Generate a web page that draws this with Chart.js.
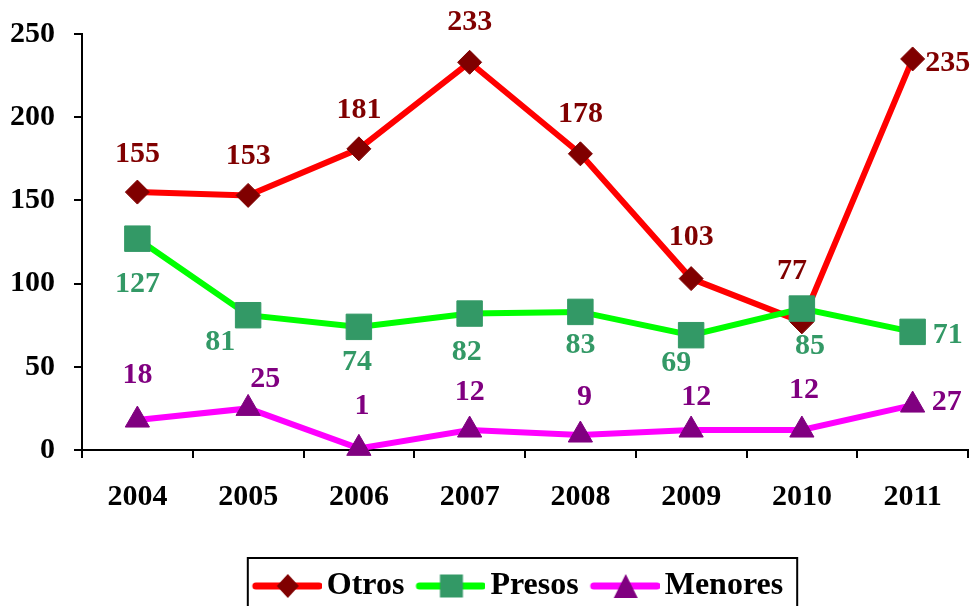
<!DOCTYPE html>
<html>
<head>
<meta charset="utf-8">
<script src="https://cdn.jsdelivr.net/npm/chart.js@4/dist/chart.umd.min.js"></script>
<style>
  html, body { margin: 0; padding: 0; background: #fff; overflow: hidden; }
  #wrap { position: relative; width: 975px; height: 606px; }
  #grafico { display: block; }
</style>
</head>
<body>
<div id="wrap"><canvas id="grafico"></canvas></div>
<script>
// datos
const years = ["2004", "2005", "2006", "2007", "2008", "2009", "2010", "2011"];
const otros = [155, 153, 181, 233, 178, 103, 77, 235];
const presos = [127, 81, 74, 82, 83, 69, 85, 71];
const menores = [18, 25, 1, 12, 9, 12, 12, 27];
const yTicks = [0, 50, 100, 150, 200, 250];

const FONT = '"Liberation Serif", "Times New Roman", serif';

// icono de leyenda: linea + marcador
function legendIcon(lineColor, fill, shape) {
  const c = document.createElement("canvas");
  c.width = 82; c.height = 30;
  const g = c.getContext("2d");
  g.strokeStyle = lineColor;
  g.lineWidth = 7;
  g.lineCap = "round";
  g.beginPath(); g.moveTo(16, 15); g.lineTo(79, 15); g.stroke();
  g.fillStyle = fill;
  const cx = 48, cy = 15;
  g.beginPath();
  if (shape === "rectRot") {
    g.moveTo(cx, cy - 12); g.lineTo(cx + 11, cy); g.lineTo(cx, cy + 12); g.lineTo(cx - 11, cy);
  } else if (shape === "rect") {
    g.rect(cx - 11.5, cy - 11.5, 23, 23);
  } else {
    g.moveTo(cx, cy - 12); g.lineTo(cx + 12, cy + 12); g.lineTo(cx - 12, cy + 12);
  }
  g.closePath(); g.fill();
  return c;
}

// etiquetas de valores + marco de la leyenda
const etiquetas = {
  id: "etiquetas",
  afterLayout(chart) {
    // correr la leyenda un poco a la izquierda
    if (chart.legend) { chart.legend.left -= 8; chart.legend.right -= 8; }
  },
  afterDatasetsDraw(chart) {
    const ctx = chart.ctx;
    ctx.save();
    ctx.font = "bold 30px " + FONT;
    ctx.textAlign = "center";
    ctx.textBaseline = "middle";
    chart.data.datasets.forEach((ds, i) => {
      const meta = chart.getDatasetMeta(i);
      ctx.fillStyle = ds.labelColor;
      meta.data.forEach((pt, j) => {
        const off = ds.labelOffsets[j];
        ctx.fillText(String(ds.data[j]), pt.x + off[0], pt.y + off[1]);
      });
    });
    ctx.restore();
  },
  afterDraw(chart) {
    const lg = chart.legend;
    if (!lg || !lg.legendHitBoxes.length) return;
    const hb = lg.legendHitBoxes;
    const left = hb[0].left - 3;
    const right = hb[hb.length - 1].left + hb[hb.length - 1].width + 14;
    const top = lg.top - 2;
    const ctx = chart.ctx;
    ctx.save();
    ctx.strokeStyle = "#000";
    ctx.lineWidth = 2;
    ctx.strokeRect(left, top, right - left, 80);
    ctx.restore();
  }
};

new Chart(document.getElementById("grafico"), {
  type: "line",
  data: {
    labels: years,
    datasets: [
      {
        label: "Otros",
        data: otros,
        borderColor: "#FF0000",
        backgroundColor: "#800000",
        borderWidth: 6,
        pointStyle: "rectRot",
        pointRadius: 12,
        pointBorderWidth: 1,
        pointBorderColor: "#800000",
        pointBackgroundColor: "#800000",
        labelColor: "#800000",
        labelOffsets: [[0, -38], [0, -39], [0, -39], [0, -40], [0, -40], [0, -41], [-10, -51], [35, 4]],
        icon: legendIcon("#FF0000", "#800000", "rectRot"),
        order: 3,
        clip: false
      },
      {
        label: "Presos",
        data: presos,
        borderColor: "#00FF00",
        backgroundColor: "#339966",
        borderWidth: 6,
        pointStyle: "rect",
        pointRadius: 18,
        pointBorderWidth: 1,
        pointBorderColor: "#339966",
        pointBackgroundColor: "#339966",
        labelColor: "#339966",
        labelOffsets: [[0, 46], [-28, 27], [-2, 35], [-3, 39], [0, 33], [-15, 28], [8, 38], [35, 3]],
        icon: legendIcon("#00FF00", "#339966", "rect"),
        order: 2,
        clip: false
      },
      {
        label: "Menores",
        data: menores,
        borderColor: "#FF00FF",
        backgroundColor: "#800080",
        borderWidth: 6,
        pointStyle: "triangle",
        pointRadius: 14,
        pointBorderWidth: 1,
        pointBorderColor: "#800080",
        pointBackgroundColor: "#800080",
        labelColor: "#800080",
        labelOffsets: [[0, -45], [17, -29], [3, -42], [0, -38], [4, -38], [5, -33], [2, -40], [34, -3]],
        icon: legendIcon("#FF00FF", "#800080", "triangle"),
        order: 1,
        clip: false
      }
    ]
  },
  options: {
    responsive: true,
    maintainAspectRatio: false,
    animation: false,
    layout: { autoPadding: false, padding: { top: 34, right: 7, left: 0, bottom: -6 } },
    elements: { line: { tension: 0 } },
    plugins: {
      tooltip: { enabled: false },
      legend: {
        position: "bottom",
        fullSize: false,
        labels: {
          usePointStyle: true,
          pointStyleWidth: 60,
          padding: 10,
          color: "#000",
          font: { family: FONT, size: 32, weight: "bold" },
          generateLabels(chart) {
            return chart.data.datasets.map((ds, i) => ({
              text: ds.label,
              pointStyle: ds.icon,
              fillStyle: "rgba(0,0,0,0)",
              strokeStyle: "rgba(0,0,0,0)",
              lineWidth: 0,
              fontColor: "#000",
              hidden: false,
              datasetIndex: i
            }));
          }
        }
      }
    },
    scales: {
      x: {
        offset: true,
        afterFit(scale) { scale.height = 110; scale.paddingLeft = 0; scale.paddingRight = 0; },
        border: { display: true, color: "#000", width: 2 },
        grid: { offset: true, drawOnChartArea: false, drawTicks: true, tickLength: 8, color: "#000", lineWidth: 2 },
        ticks: { color: "#000", padding: 21, font: { family: FONT, size: 30, weight: "bold" } }
      },
      y: {
        min: yTicks[0],
        max: yTicks[yTicks.length - 1],
        afterFit(scale) { scale.width = 82; scale.paddingTop = 0; scale.paddingBottom = 0; },
        afterBuildTicks(scale) { scale.ticks = yTicks.map(v => ({ value: v })); },
        border: { display: true, color: "#000", width: 2 },
        grid: { drawOnChartArea: false, drawTicks: true, tickLength: 8, color: "#000", lineWidth: 2 },
        ticks: { color: "#000", padding: 19, font: { family: FONT, size: 30, weight: "bold" } }
      }
    }
  },
  plugins: [etiquetas]
});
</script>
</body>
</html>
